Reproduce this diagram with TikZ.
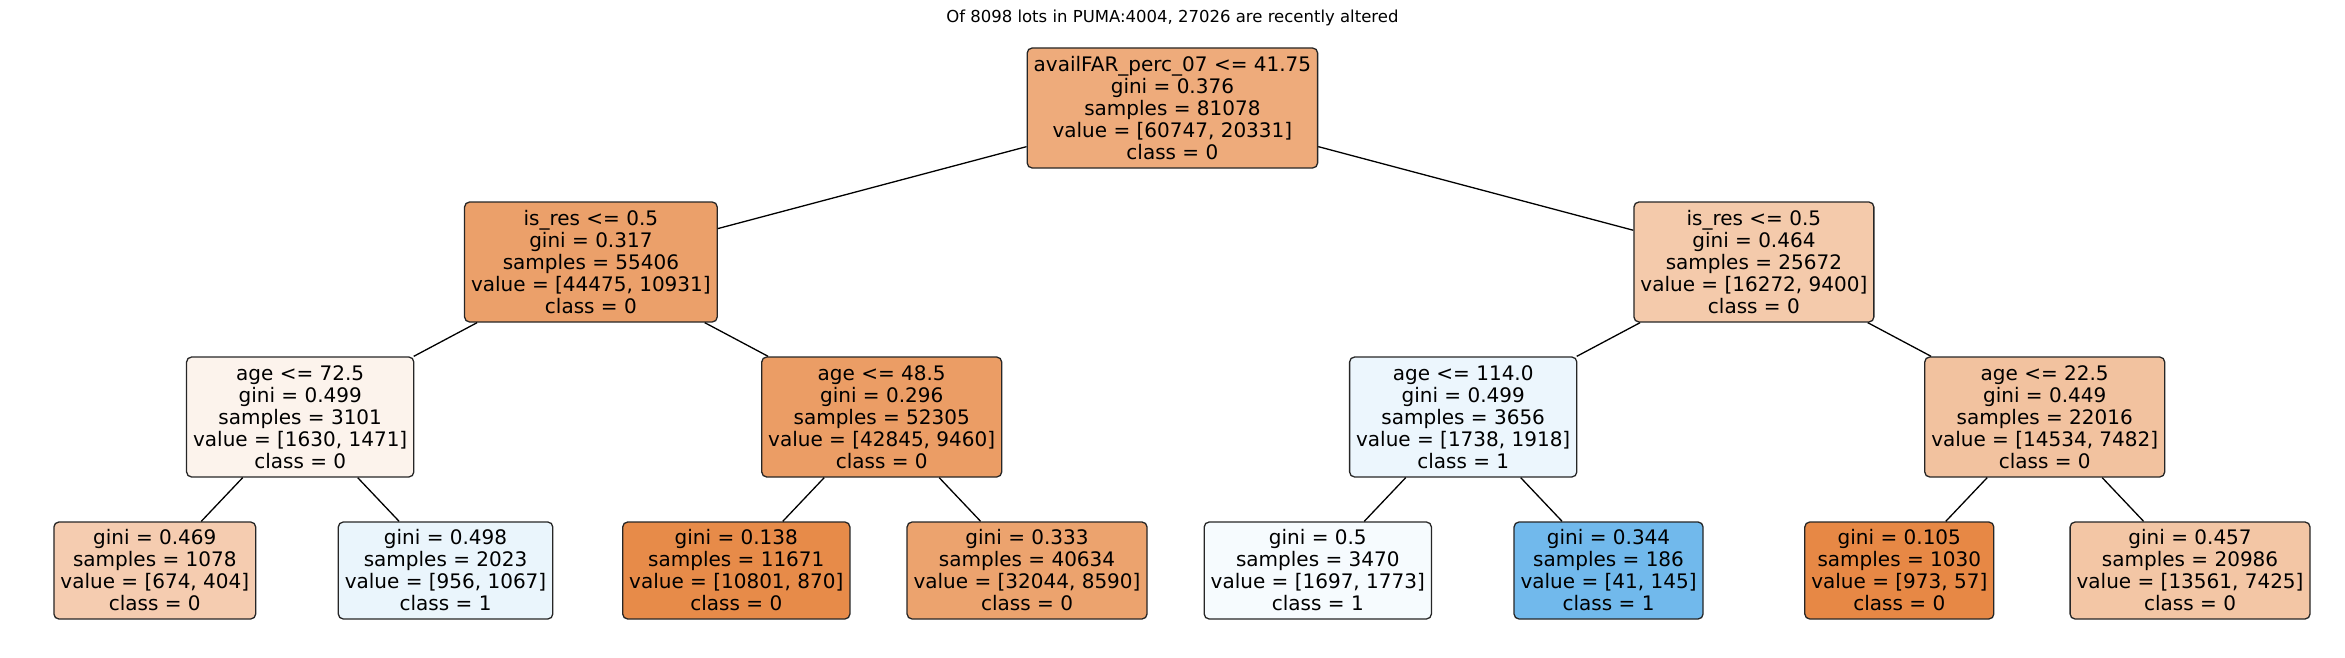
\documentclass[tikz,border=0pt]{standalone}
\usepackage{fontspec}
\setmainfont{DejaVu Sans}
\definecolor{czero}{RGB}{229,129,57}
\definecolor{cone}{RGB}{57,157,229}
\tikzset{
  tnode/.style={draw=black!85, line width=1.3pt, rounded corners=5pt, align=center,
    inner xsep=6.5pt, inner ysep=0pt, font=\fontsize{20}{22}\selectfont, minimum height=120pt},
  leafnode/.style={tnode, minimum height=97pt},
  link/.style={line width=1.3pt, black}
}
\begin{document}
\begin{tikzpicture}[x=1pt,y=-1pt]
\useasboundingbox (0,0) rectangle (2345,658);
\node[font=\fontsize{16.5}{19}\selectfont, anchor=base] (title) at (1172.4,23) {Of 8098 lots in PUMA:4004, 27026 are recently altered};
% level 0
\node[tnode, fill=czero!66.5!white] (n0) at (1172.4,108) {availFAR\_perc\_07 <= 41.75\\gini = 0.376\\samples = 81078\\value = [60747, 20331]\\class = 0};
% level 1
\node[tnode, fill=czero!75.4!white] (n1) at (590.9,262) {is\_res <= 0.5\\gini = 0.317\\samples = 55406\\value = [44475, 10931]\\class = 0};
\node[tnode, fill=czero!42.2!white] (n2) at (1753.9,262) {is\_res <= 0.5\\gini = 0.464\\samples = 25672\\value = [16272, 9400]\\class = 0};
% level 2
\node[tnode, fill=czero!9.75!white] (n3) at (300.2,417) {age <= 72.5\\gini = 0.499\\samples = 3101\\value = [1630, 1471]\\class = 0};
\node[tnode, fill=czero!77.9!white] (n4) at (881.7,417) {age <= 48.5\\gini = 0.296\\samples = 52305\\value = [42845, 9460]\\class = 0};
\node[tnode, fill=cone!9.4!white] (n5) at (1463.2,417) {age <= 114.0\\gini = 0.499\\samples = 3656\\value = [1738, 1918]\\class = 1};
\node[tnode, fill=czero!48.5!white] (n6) at (2044.7,417) {age <= 22.5\\gini = 0.449\\samples = 22016\\value = [14534, 7482]\\class = 0};
% level 3
\node[leafnode, fill=czero!40.1!white] (l0) at (154.8,570.5) {gini = 0.469\\samples = 1078\\value = [674, 404]\\class = 0};
\node[leafnode, fill=cone!10.4!white] (l1) at (445.55,570.5) {gini = 0.498\\samples = 2023\\value = [956, 1067]\\class = 1};
\node[leafnode, fill=czero!91.9!white] (l2) at (736.3,570.5) {gini = 0.138\\samples = 11671\\value = [10801, 870]\\class = 0};
\node[leafnode, fill=czero!73.2!white] (l3) at (1027.05,570.5) {gini = 0.333\\samples = 40634\\value = [32044, 8590]\\class = 0};
\node[leafnode, fill=cone!4.3!white] (l4) at (1317.8,570.5) {gini = 0.5\\samples = 3470\\value = [1697, 1773]\\class = 1};
\node[leafnode, fill=cone!71.7!white] (l5) at (1608.55,570.5) {gini = 0.344\\samples = 186\\value = [41, 145]\\class = 1};
\node[leafnode, fill=czero!94.1!white] (l6) at (1899.3,570.5) {gini = 0.105\\samples = 1030\\value = [973, 57]\\class = 0};
\node[leafnode, fill=czero!45.2!white] (l7) at (2190.05,570.5) {gini = 0.457\\samples = 20986\\value = [13561, 7425]\\class = 0};
% connectors
\draw[link] (n0) -- (n1);
\draw[link] (n0) -- (n2);
\draw[link] (n1) -- (n3);
\draw[link] (n1) -- (n4);
\draw[link] (n2) -- (n5);
\draw[link] (n2) -- (n6);
\draw[link] (n3) -- (l0);
\draw[link] (n3) -- (l1);
\draw[link] (n4) -- (l2);
\draw[link] (n4) -- (l3);
\draw[link] (n5) -- (l4);
\draw[link] (n5) -- (l5);
\draw[link] (n6) -- (l6);
\draw[link] (n6) -- (l7);
\end{tikzpicture}
\end{document}
